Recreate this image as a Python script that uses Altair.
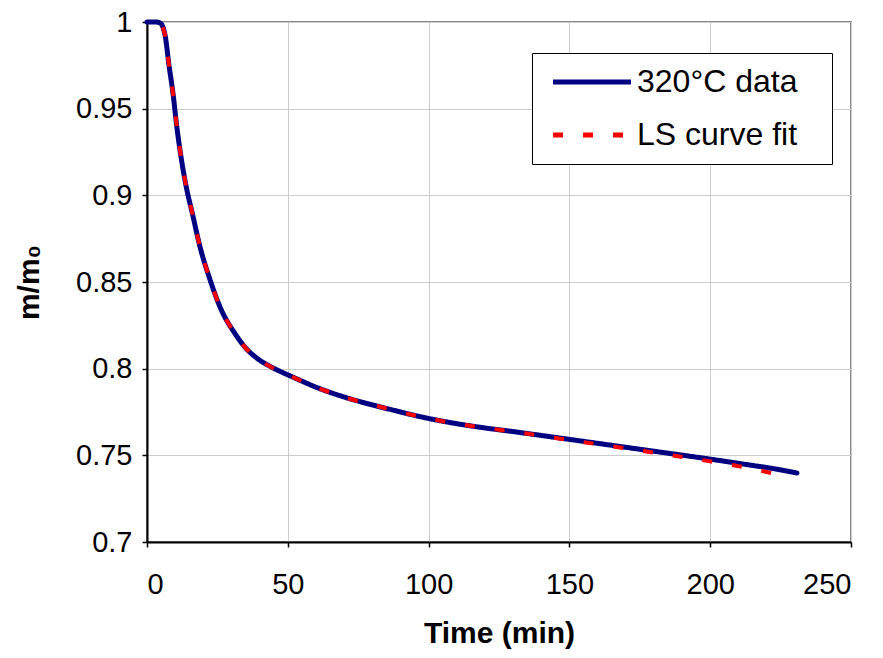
import altair as alt
import pandas as pd

series_names = ["320°C data", "LS curve fit"]

data_t = [0, 3, 4.6, 5.4, 6.4, 7.8, 9.35, 10.55, 12.07, 13.85, 16.23, 18.8, 22.1,
          25.9, 31.6, 35, 38.9, 43.7, 47.2, 52, 59, 70.9, 82.7, 99.9, 118.2, 127.7,
          150, 175, 200, 212.4, 223.6, 230.8]
data_v = [1.0, 1.0, 0.9995, 0.998, 0.9925, 0.9752, 0.9573, 0.940, 0.9223, 0.9056,
          0.8887, 0.8704, 0.8527, 0.8357, 0.8194, 0.812, 0.8062, 0.8013, 0.7985,
          0.795, 0.79, 0.7832, 0.778, 0.7713, 0.7662, 0.7642, 0.7592, 0.7535,
          0.7478, 0.7448, 0.742, 0.7398]

fit_t = [5.6, 6.4, 7.8, 9.35, 10.55, 12.07, 13.85, 16.23, 18.8, 22.1, 25.9, 31.6,
         35, 38.9, 43.7, 47.2, 52, 59, 70.9, 82.7, 99.9, 118.2, 127.7, 150, 175, 200,
         212.4, 225]
fit_v = [0.997, 0.9925, 0.9752, 0.9573, 0.940, 0.9223, 0.9056, 0.8887, 0.8704,
         0.8527, 0.8357, 0.8194, 0.812, 0.8062, 0.8013, 0.7985, 0.795, 0.79, 0.7832,
         0.778, 0.7713, 0.7662, 0.7642, 0.7588, 0.7528, 0.7465, 0.743, 0.7385]

x_ticks = [0, 50, 100, 150, 200, 250]
y_ticks = [0.7, 0.75, 0.8, 0.85, 0.9, 0.95, 1.0]

data_df = pd.DataFrame({"t": data_t, "v": data_v, "series": series_names[0]})
fit_df = pd.DataFrame({"t": fit_t, "v": fit_v, "series": series_names[1]})

FONT = "Liberation Sans"

legend = alt.Legend(title=" ", titleOrient="right", titlePadding=22, titleFontSize=1,
                    orient="none", legendX=385, legendY=31)

x_enc = alt.X("t:Q", title="Time (min)",
              scale=alt.Scale(domain=[0, 250], nice=False, zero=False),
              axis=alt.Axis(values=x_ticks, labelPadding=23, titlePadding=19))
y_enc = alt.Y("v:Q", title="m/m₀",
              scale=alt.Scale(domain=[0.7, 1.0], nice=False, zero=False),
              axis=alt.Axis(values=y_ticks, format="~g", labelPadding=10, titlePadding=31))
color_enc = alt.Color("series:N",
                      scale=alt.Scale(domain=series_names, range=["#000080", "#ff0000"]),
                      legend=legend)
dash_enc = alt.StrokeDash("series:N",
                          scale=alt.Scale(domain=series_names, range=[[1, 0], [10, 20]]),
                          legend=legend)

data_line = alt.Chart(data_df).mark_line(
    interpolate="monotone", strokeWidth=5, strokeCap="round"
).encode(x=x_enc, y=y_enc, color=color_enc, strokeDash=dash_enc, order="t:Q")

fit_line = alt.Chart(fit_df).mark_line(
    interpolate="monotone", strokeWidth=4, strokeCap="butt"
).encode(x=x_enc, y=y_enc, color=color_enc, strokeDash=dash_enc, order="t:Q")

chart = alt.layer(data_line, fit_line).properties(
    width=704, height=520,
    padding={"left": 139, "top": 14, "right": 24, "bottom": 114},
    autosize=alt.AutoSizeParams(type="none"),
).configure_view(
    stroke="#888888", strokeWidth=2
).configure_axis(
    labelFont=FONT, titleFont=FONT, labelFontSize=29, titleFontSize=30,
    labelColor="black", titleColor="black", titleFontWeight="bold",
    domainColor="black", domainWidth=2, tickColor="black", tickWidth=1.5, tickSize=5,
    gridColor="#cccccc", gridWidth=1,
).configure_legend(
    labelFont=FONT, labelFontSize=32, labelColor="black", labelLimit=400,
    symbolType="M-4,0H4", symbolSize=380, symbolStrokeWidth=5,
    strokeColor="black", fillColor="white", padding=13, rowPadding=21,
    symbolOffset=31, labelOffset=29, cornerRadius=0,
)

chart.save("out.html", embed_options={"renderer": "svg", "actions": False})
